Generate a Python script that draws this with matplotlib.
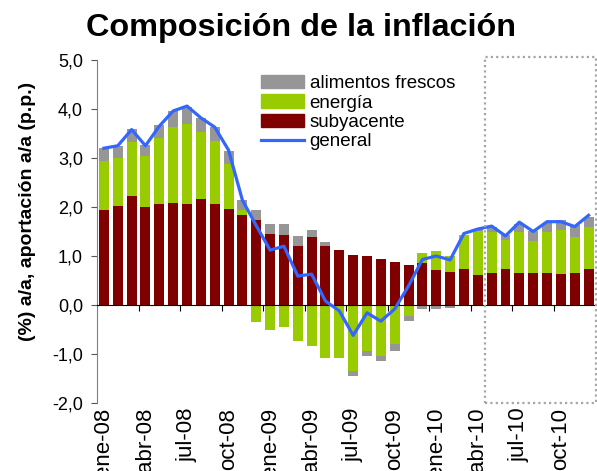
import numpy as np
import matplotlib
matplotlib.use('Agg')
import matplotlib.pyplot as plt
from matplotlib.patches import Patch, Rectangle
from matplotlib.lines import Line2D

plt.rcParams['font.family'] = ['Liberation Sans', 'DejaVu Sans']

# datos mensuales ene-08 .. dic-10
meses = ['ene', 'feb', 'mar', 'abr', 'may', 'jun', 'jul', 'ago', 'sep', 'oct', 'nov', 'dic']
etiquetas = [f'{m}-{a}' for a in ['08', '09', '10'] for m in meses]

subyacente = [1.94, 2.02, 2.22, 2.00, 2.06, 2.08, 2.06, 2.16, 2.06, 1.96, 1.84, 1.73,
              1.45, 1.43, 1.20, 1.39, 1.20, 1.12, 1.02, 1.00, 0.94, 0.88, 0.82, 0.86,
              0.72, 0.68, 0.74, 0.61, 0.65, 0.74, 0.65, 0.65, 0.65, 0.63, 0.65, 0.74]
energia = [1.00, 0.98, 1.11, 1.04, 1.34, 1.55, 1.63, 1.37, 1.29, 0.92, 0.10, -0.34,
           -0.50, -0.44, -0.74, -0.83, -1.09, -1.09, -1.35, -0.94, -1.05, -0.79, -0.22, 0.20,
           0.38, 0.31, 0.69, 0.90, 0.84, 0.59, 0.84, 0.66, 0.84, 0.90, 0.74, 0.85]
alimentos = [0.26, 0.24, 0.27, 0.22, 0.27, 0.33, 0.36, 0.29, 0.28, 0.26, 0.20, 0.21,
             0.20, 0.22, 0.21, 0.14, 0.08, 0.00, -0.09, -0.10, -0.09, -0.15, -0.10, -0.09,
             -0.09, -0.06, 0.00, 0.04, 0.10, 0.10, 0.16, 0.20, 0.18, 0.20, 0.24, 0.21]
general = [3.20, 3.25, 3.58, 3.25, 3.65, 3.96, 4.06, 3.82, 3.63, 3.16, 2.14, 1.62,
           1.12, 1.20, 0.59, 0.63, 0.08, -0.12, -0.62, -0.16, -0.33, -0.08, 0.39, 0.93,
           1.00, 0.92, 1.46, 1.55, 1.61, 1.41, 1.69, 1.50, 1.70, 1.70, 1.60, 1.83]

c_sub = '#800000'
c_ener = '#99CC00'
c_alim = '#969696'
c_gen = '#3366FF'

fig = plt.figure(figsize=(5.97, 4.71), dpi=100)
ax = fig.add_axes([97/597, 68/471, (595.5-97)/597, (403-60)/471])

x = np.arange(len(etiquetas))
pos_base = np.zeros(len(x))
neg_base = np.zeros(len(x))
# apilado estilo Excel: positivos hacia arriba, negativos hacia abajo
for serie, color in [(subyacente, c_sub), (energia, c_ener), (alimentos, c_alim)]:
    v = np.array(serie)
    base = np.where(v >= 0, pos_base, neg_base)
    ax.bar(x, v, bottom=base, width=0.72, color=color, zorder=2)
    pos_base = pos_base + np.where(v > 0, v, 0)
    neg_base = neg_base + np.where(v < 0, v, 0)

ax.plot(x, general, color=c_gen, lw=2.3, zorder=5)

ax.set_xlim(-0.5, len(x) - 0.5)
ax.set_ylim(-2, 5)

# eje y
ax.set_yticks(range(-2, 6))
ax.set_yticklabels([f'{v:.1f}'.replace('.', ',') for v in range(-2, 6)])
ax.tick_params(axis='y', direction='out', length=4, pad=6, labelsize=13,
               color='#555555')
ax.spines['left'].set_color('#808080')
ax.spines['right'].set_visible(False)
ax.spines['top'].set_visible(False)

# eje x en el cero, etiquetas abajo
ax.spines['bottom'].set_position(('data', 0))
ax.spines['bottom'].set_color('black')
ax.set_xticks(np.arange(2.5, len(x) - 0.5, 3))
ax.tick_params(axis='x', direction='out', length=4, labelbottom=False, color='black')

sec = ax.secondary_xaxis(0)
sec.set_xticks(x[::3])
sec.set_xticklabels(etiquetas[::3], rotation=90, fontsize=16)
sec.tick_params(length=0, pad=3.5)
sec.spines['bottom'].set_visible(False)

# recuadro de previsión
ax.add_patch(Rectangle((27.5, -2), 8, 7.07, fill=False, ec='#a6a6a6',
                       ls=(0, (1, 1.4)), lw=1.6, clip_on=False, zorder=6))

handles = [Patch(color=c_alim), Patch(color=c_ener), Patch(color=c_sub),
           Line2D([], [], color=c_gen, lw=2.3)]
fig.legend(handles, ['alimentos frescos', 'energía', 'subyacente', 'general'],
           loc='upper left', bbox_to_anchor=(261/597, 1 - 75/471), frameon=False,
           fontsize=13.5, handlelength=2.3, handleheight=0.7, labelspacing=0.12,
           handletextpad=0.3, borderpad=0, borderaxespad=0)

fig.text(301/597, 1 - 36/471, 'Composición de la inflación', ha='center',
         va='baseline', fontsize=23.3, fontweight='bold')
fig.text(28/597, 1 - 211/471, '(%) a/a, aportación a/a (p.p.)', rotation=90,
         ha='center', va='center', fontsize=14, fontweight='bold')

fig.savefig('out.png', dpi=100)
